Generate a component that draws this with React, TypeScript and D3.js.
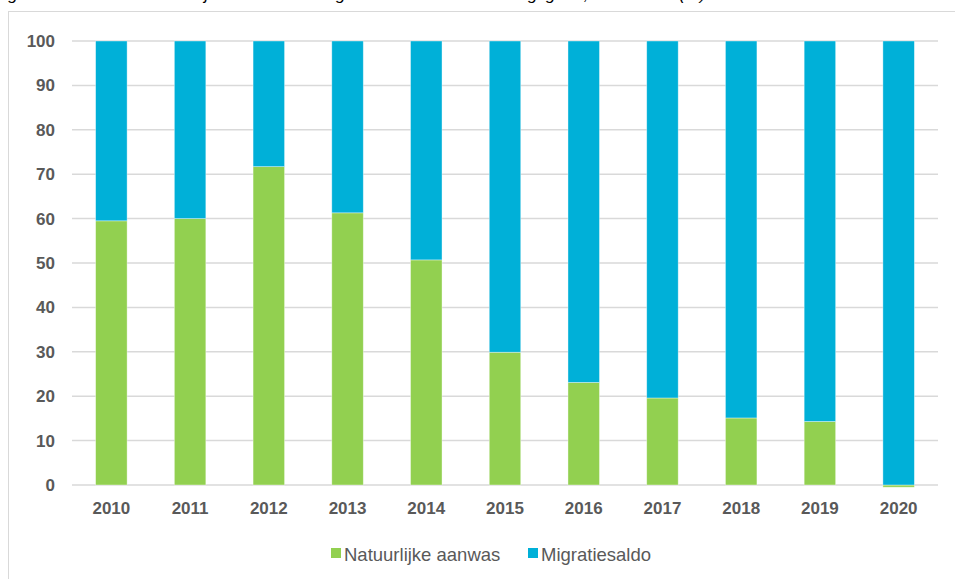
import React from "react";
import * as d3 from "d3";

const years = ["2010","2011","2012","2013","2014","2015","2016","2017","2018","2019","2020"];
const natuurlijk = [59.5, 60.0, 71.7, 61.3, 50.7, 29.9, 23.1, 19.6, 15.1, 14.3, -0.5];
const migratie = [40.5, 40.0, 28.3, 38.7, 49.3, 70.1, 76.9, 80.4, 84.9, 85.7, 100.0];
const yTicks = [0, 10, 20, 30, 40, 50, 60, 70, 80, 90, 100];
const seriesNames = ["Natuurlijke aanwas", "Migratiesaldo"];
const colors = ["#92D050", "#00B0D8"];

export default function App() {
  const W = 955, H = 579;
  const left = 72, right = 938, top = 41, bottom = 485;
  const x = d3.scaleBand<string>().domain(years).range([left, right]).paddingInner(0.6).paddingOuter(0.3);
  const y = d3.scaleLinear().domain([0, 100]).range([bottom, top]);
  const font = "Arial, 'Liberation Sans', sans-serif";
  return (
    <svg width={W} height={H} style={{ position: "absolute", left: 0, top: 0, background: "#fff" }}>
      <text x={-6} y={0} fontFamily={font} fontStyle="italic" fontSize={17} fill="#000">
        Figuur: aandeel van natuurlijke aanwas en migratiesaldo in de bevolkingsgroei, 2010-2020 (%)
      </text>
      <rect x={8.5} y={11.5} width={960} height={600} fill="#fff" stroke="#D9D9D9" strokeWidth={1} />
      {yTicks.map((t) => (
        <g key={t}>
          <line x1={left} x2={right} y1={y(t)} y2={y(t)} stroke="#D9D9D9" strokeWidth={1.5} />
          <text x={55} y={y(t) + 6} textAnchor="end" fontFamily={font} fontWeight="bold" fontSize={17} fill="#595959">{t}</text>
        </g>
      ))}
      {years.map((yr, i) => {
        const bx = x(yr)!;
        const bw = x.bandwidth();
        const g = natuurlijk[i];
        const gTop = Math.max(g, 0);
        const gBot = Math.min(g, 0);
        return (
          <g key={yr}>
            <rect x={bx} width={bw} y={y(gTop)} height={y(gBot) - y(gTop)} fill={colors[0]} stroke="#fff" strokeOpacity={0.5} strokeWidth={0.75} />
            <rect x={bx} width={bw} y={y(Math.max(g, 0) + migratie[i])} height={y(Math.max(g, 0)) - y(Math.max(g, 0) + migratie[i])} fill={colors[1]} stroke="#fff" strokeOpacity={0.5} strokeWidth={0.75} />
            <text x={bx + bw / 2} y={514} textAnchor="middle" fontFamily={font} fontWeight="bold" fontSize={17} fill="#595959">{yr}</text>
          </g>
        );
      })}
      <g>
        <rect x={331} y={548} width={10} height={10} fill={colors[0]} />
        <text x={344} y={560.5} fontFamily={font} fontSize={18.5} fill="#595959">{seriesNames[0]}</text>
        <rect x={528} y={548} width={10} height={10} fill={colors[1]} />
        <text x={541} y={560.5} fontFamily={font} fontSize={18.5} fill="#595959">{seriesNames[1]}</text>
      </g>
    </svg>
  );
}
